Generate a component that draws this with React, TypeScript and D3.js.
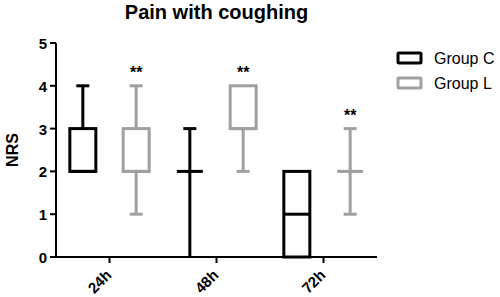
import React from "react";
import * as d3 from "d3";

const categories = ["24h", "48h", "72h"];
const groups = ["Group C", "Group L"];
const colors = ["#000000", "#a0a0a0"];
// [min, q1, median, q3, max]
const groupC = [
  [2, 2, 2, 3, 4],
  [0, 2, 2, 2, 3],
  [0, 0, 1, 2, 2],
];
const groupL = [
  [1, 2, 2, 3, 4],
  [2, 3, 3, 4, 4],
  [1, 2, 2, 2, 3],
];
const significance = ["**", "**", "**"];
const yTicks = [0, 1, 2, 3, 4, 5];

const W = 500, H = 297;
const left = 56, right = 377, top = 43, bottom = 257;

export default function App() {
  const x = d3.scaleBand().domain(categories).range([left, right]);
  const sub = d3.scaleBand().domain(groups).range([-40, 40]).paddingInner(0.5);
  const y = d3.scaleLinear().domain([0, 5]).range([bottom, top]);
  const bw = 26;
  const font = "'Liberation Sans', Arial, sans-serif";
  const series = [groupC, groupL];

  return (
    <svg width={W} height={H} style={{ position: "absolute", left: 0, top: 0 }} fontFamily={font}>
      <text x={216.5} y={19} textAnchor="middle" fontWeight="bold" fontSize={20}>Pain with coughing</text>
      <text transform={`translate(18,${150}) rotate(-90)`} textAnchor="middle" fontWeight="bold" fontSize={16}>NRS</text>
      {series.map((s, gi) =>
        s.map((d, ci) => {
          const cx = (x(categories[ci]) as number) + x.bandwidth() / 2 + (sub(groups[gi]) as number) + sub.bandwidth() / 2;
          const [mn, q1, md, q3, mx] = d;
          const col = colors[gi];
          const sw = 3;
          return (
            <g key={`${gi}-${ci}`} stroke={col} strokeWidth={sw} fill="none">
              {q3 > q1 ? (
                <rect x={cx - bw / 2} y={y(q3)} width={bw} height={y(q1) - y(q3)} />
              ) : null}
              <line x1={cx - bw / 2} x2={cx + bw / 2} y1={y(md)} y2={y(md)} />
              {mx > q3 ? <line x1={cx} x2={cx} y1={y(q3)} y2={y(mx)} /> : null}
              {mn < q1 ? <line x1={cx} x2={cx} y1={y(q1)} y2={y(mn)} /> : null}
              {mx > q3 ? <line x1={cx - bw / 4} x2={cx + bw / 4} y1={y(mx)} y2={y(mx)} /> : null}
              {mn < q1 && mn > 0 ? <line x1={cx - bw / 4} x2={cx + bw / 4} y1={y(mn)} y2={y(mn)} /> : null}
            </g>
          );
        })
      )}
      {groupL.map((d, ci) => {
        const cx = (x(categories[ci]) as number) + x.bandwidth() / 2 + (sub(groups[1]) as number) + sub.bandwidth() / 2;
        return (
          <text key={ci} x={cx} y={y(d[4]) - 8} textAnchor="middle" fontWeight="bold" fontSize={16}>{significance[ci]}</text>
        );
      })}
      <line x1={left} x2={left} y1={top} y2={bottom + 1} stroke="#000" strokeWidth={2} />
      <line x1={left - 1} x2={right} y1={bottom} y2={bottom} stroke="#000" strokeWidth={2} />
      {yTicks.map((t) => (
        <g key={t}>
          <line x1={left - 6} x2={left} y1={y(t)} y2={y(t)} stroke="#000" strokeWidth={2} />
          <text x={left - 9} y={y(t) + 6} textAnchor="end" fontWeight="bold" fontSize={15}>{t}</text>
        </g>
      ))}
      {categories.map((c) => {
        const cx = (x(c) as number) + x.bandwidth() / 2;
        return (
          <g key={c}>
            <line x1={cx} x2={cx} y1={bottom} y2={bottom + 6} stroke="#000" strokeWidth={2} />
            <text transform={`translate(${cx + 3},${bottom + 19}) rotate(-45)`} textAnchor="end" fontWeight="bold" fontSize={15}>{c}</text>
          </g>
        );
      })}
      {groups.map((g, i) => (
        <g key={g}>
          <rect x={398} y={53 + i * 25} width={23} height={10} fill="none" stroke={colors[i]} strokeWidth={3} rx={1} />
          <text x={434} y={64 + i * 25} fontSize={16}>{g}</text>
        </g>
      ))}
    </svg>
  );
}
